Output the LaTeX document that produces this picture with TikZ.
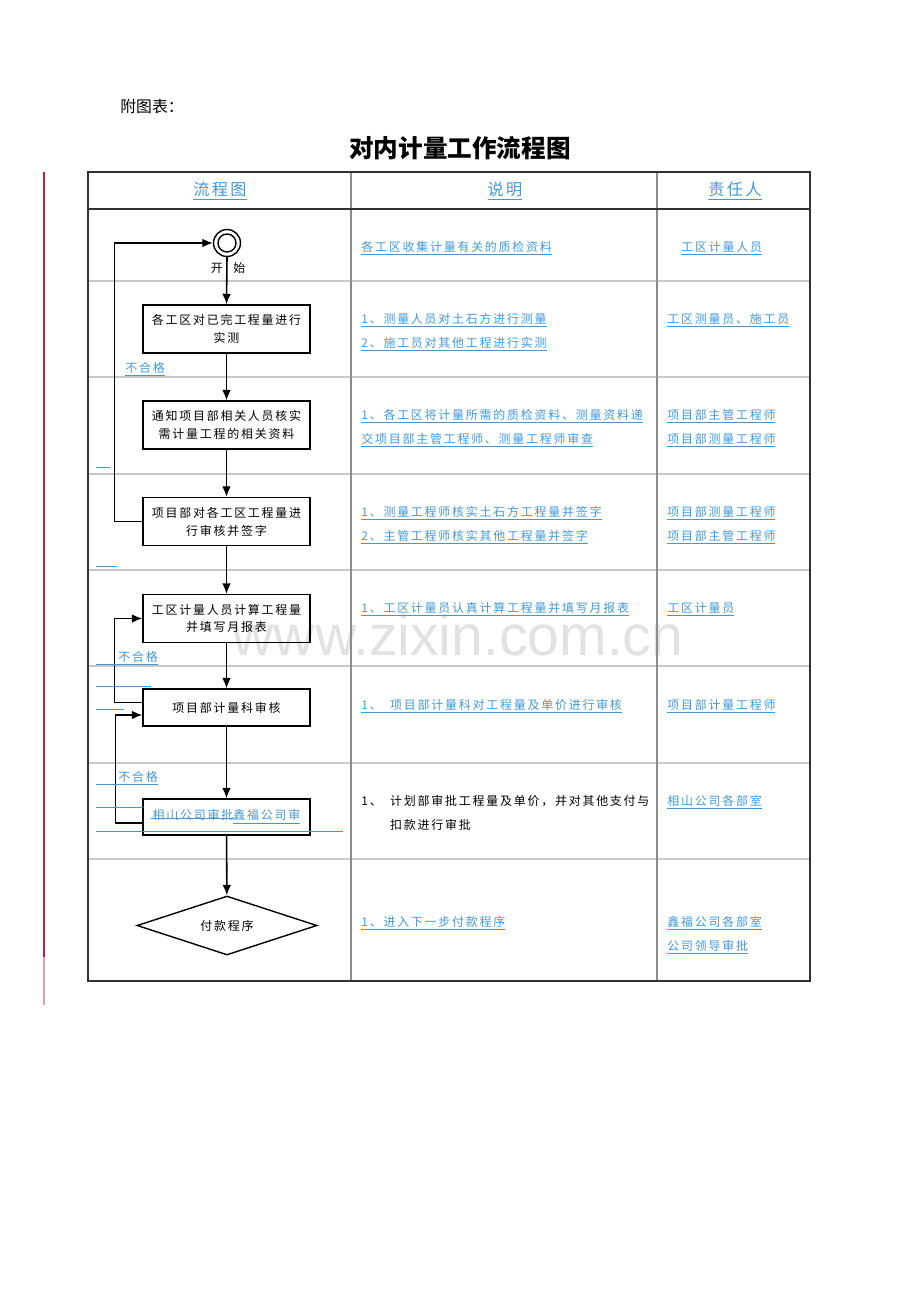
\documentclass[tikz,border=0pt]{standalone}
\usepackage{fontspec}
\setmainfont{Noto Sans CJK SC}
\newfontfamily\cjk{Noto Sans CJK SC}
\newfontfamily\cjkw[LetterSpace=15]{Noto Sans CJK SC}
\usepackage{tikz}
\usetikzlibrary{arrows.meta}
\usetikzlibrary{shapes.geometric}
\usepackage{xcolor}
\definecolor{linkblue}{RGB}{66,152,214}
\definecolor{redbar}{RGB}{200,30,70}
\definecolor{rowgray}{RGB}{200,200,200}
\definecolor{colgray}{RGB}{140,140,140}
\definecolor{bordgray}{RGB}{50,50,50}
\definecolor{wmgray}{RGB}{226,226,226}

\tikzset{
  small/.style={font=\cjkw\fontsize{6.8}{13.6}\selectfont},
  box/.style={draw, line width=0.8pt, font=\cjkw\fontsize{6.8}{10.2}\selectfont, minimum width=3.34cm, minimum height=0.96cm, inner sep=1pt, align=center},
  lnk/.style={small, text=linkblue, inner sep=0pt, anchor=west, align=left, yshift=-0.05cm},
  arr/.style={-{Latex[length=6pt,width=5pt]}, line width=0.9pt},
  blu/.style={linkblue, line width=0.5pt},
}

\begin{document}
\begin{tikzpicture}[x=0.02cm, y=-0.02cm]
    \useasboundingbox (0,0) rectangle (920,1302);
    % filigrane
    \node[text=wmgray, font=\fontspec{Liberation Sans}\fontsize{32.5}{36}\selectfont] (wm) at (458,635) {www.zixin.com.cn};
    % barre rouge
    \draw[redbar, line width=1.2pt] (44,172) -- (44,957);
    \draw[redbar!45, line width=1.2pt] (44,957) -- (44,1005);
    % titres
    \node[font=\cjk\fontsize{9}{11}\selectfont] (fig) at (152,106) {附图表：};
    \node[font=\cjk\bfseries\fontsize{14}{16}\selectfont] (title) at (460,148) {对内计量工作流程图};
    % tableau
    \foreach \y in {281,377,474,570,666,763,859}
        \draw[rowgray, line width=0.85pt] (88,\y) -- (810,\y);
    \draw[colgray, line width=0.85pt] (351,172) -- (351,981);
    \draw[colgray, line width=0.85pt] (657,172) -- (657,981);
    \draw[bordgray, line width=0.85pt] (88,209) -- (810,209);
    \draw[bordgray, line width=0.85pt] (88,172) rectangle (810,981);
    \node[font=\cjkw\fontsize{9.2}{11}\selectfont, text=linkblue] (h1) at (220,191) {\underline{流程图}};
    \node[font=\cjkw\fontsize{9.2}{11}\selectfont, text=linkblue] (h2) at (505,191) {\underline{说明}};
    \node[font=\cjkw\fontsize{9.2}{11}\selectfont, text=linkblue] (h3) at (735,191) {\underline{责任人}};
    % organigramme
    \node[draw, circle, minimum size=0.54cm, inner sep=0pt, line width=0.8pt] (st) at (227,243) {};
    \draw[line width=0.8pt] (st.center) circle[radius=0.18cm];
    \node[small] (lbl) at (228,268) {开\hspace{6pt}始};
    \node[box] (b1) at (226.5,329) {各工区对已完工程量进行\\实测};
    \node[box] (b2) at (226.5,425) {通知项目部相关人员核实\\需计量工程的相关资料};
    \node[box] (b3) at (226.5,521.5) {项目部对各工区工程量进\\行审核并签字};
    \node[box] (b4) at (226.5,618.5) {工区计量人员计算工程量\\并填写月报表};
    \node[box, minimum height=0.74cm] (b5) at (226.5,707.5) {项目部计量科审核};
    \node[box, minimum height=0.72cm, text=linkblue] (b6) at (226.5,817) {相山公司审批\underline{鑫福公司审}};
    \node[draw, diamond, aspect=3, minimum width=3.6cm, minimum height=1.18cm, inner sep=0pt, line width=0.8pt, small] (pay) at (227,925.5) {付款程序};
    \draw[arr] (st.south) -- (b1.north);
    \draw[arr] (b1) -- (b2);
    \draw[arr] (b2) -- (b3);
    \draw[arr] (b3) -- (b4);
    \draw[arr] (b4) -- (b5);
    \draw[arr] (b5) -- (b6);
    \draw[arr] (b6) -- (pay);
    % retours
    \draw[arr] (b3.west) -- ++(-28,0) |- (st.west);
    \draw[arr] ([yshift=0.1cm]b5.west) -- ++(-28,0) |- (b4.west);
    \draw[arr] ([yshift=-0.12cm]b6.west) -- ++(-27,0) |- ([yshift=-0.15cm]b5.west);
    \node[lnk] (ng1) at (125,367) {\underline{不合格}};
    \node[lnk] (ng2) at (96,656) {\underline{\hspace{12.5pt}不合格}};
    \node[lnk] (ng3) at (96,776) {\underline{\hspace{12.5pt}不合格}};
    % traits bleus
    \draw[blu] (96,467) -- (110,467);
    \draw[blu] (96,566) -- (117,566);
    \draw[blu] (96,686) -- (151,686);
    \draw[blu] (96,709) -- (124,709);
    \draw[blu] (96,807) -- (143,807);
    \draw[blu] (96,831) -- (343,831);
    \draw[blu] (151,818) -- (234,818);
    % colonne explication
    \node[lnk] (d1) at (361,246) {\underline{各工区收集计量有关的质检资料}};
    \node[lnk] (d2) at (361,330) {\underline{1、测量人员对土石方进行测量}\\\underline{2、施工员对其他工程进行实测}};
    \node[lnk] (d3) at (361,426) {\underline{1、各工区将计量所需的质检资料、测量资料递}\\\underline{交项目部主管工程师、测量工程师审查}};
    \node[lnk] (d4) at (361,523) {\underline{1、测量工程师核实土石方工程量并签字}\\\underline{2、主管工程师核实其他工程量并签字}};
    \node[lnk] (d5) at (361,607) {\underline{1、工区计量员认真计算工程量并填写月报表}};
    \node[lnk] (d6) at (361,704) {\underline{\makebox[16.4pt][l]{1、}项目部计量科对工程量及单价进行审核}};
    \node[small, anchor=west, align=left, inner sep=0pt] (d7) at (361,813) {\makebox[16.4pt][l]{1、}计划部审批工程量及单价，并对其他支付与\\\hspace{16.4pt}扣款进行审批};
    \node[lnk] (d8) at (361,921) {\underline{1、进入下一步付款程序}};
    % colonne responsable
    \node[lnk] (r1) at (681,246) {\underline{工区计量人员}};
    \node[lnk] (r2) at (667,318) {\underline{工区测量员、施工员}};
    \node[lnk] (r3) at (667,426) {\underline{项目部主管工程师}\\\underline{项目部测量工程师}};
    \node[lnk] (r4) at (667,523) {\underline{项目部测量工程师}\\\underline{项目部主管工程师}};
    \node[lnk] (r5) at (667,607) {\underline{工区计量员}};
    \node[lnk] (r6) at (667,704) {\underline{项目部计量工程师}};
    \node[lnk] (r7) at (667,800) {\underline{相山公司各部室}};
    \node[lnk] (r8) at (667,933) {\underline{鑫福公司各部室}\\\underline{公司领导审批}};
\end{tikzpicture}
\end{document}
